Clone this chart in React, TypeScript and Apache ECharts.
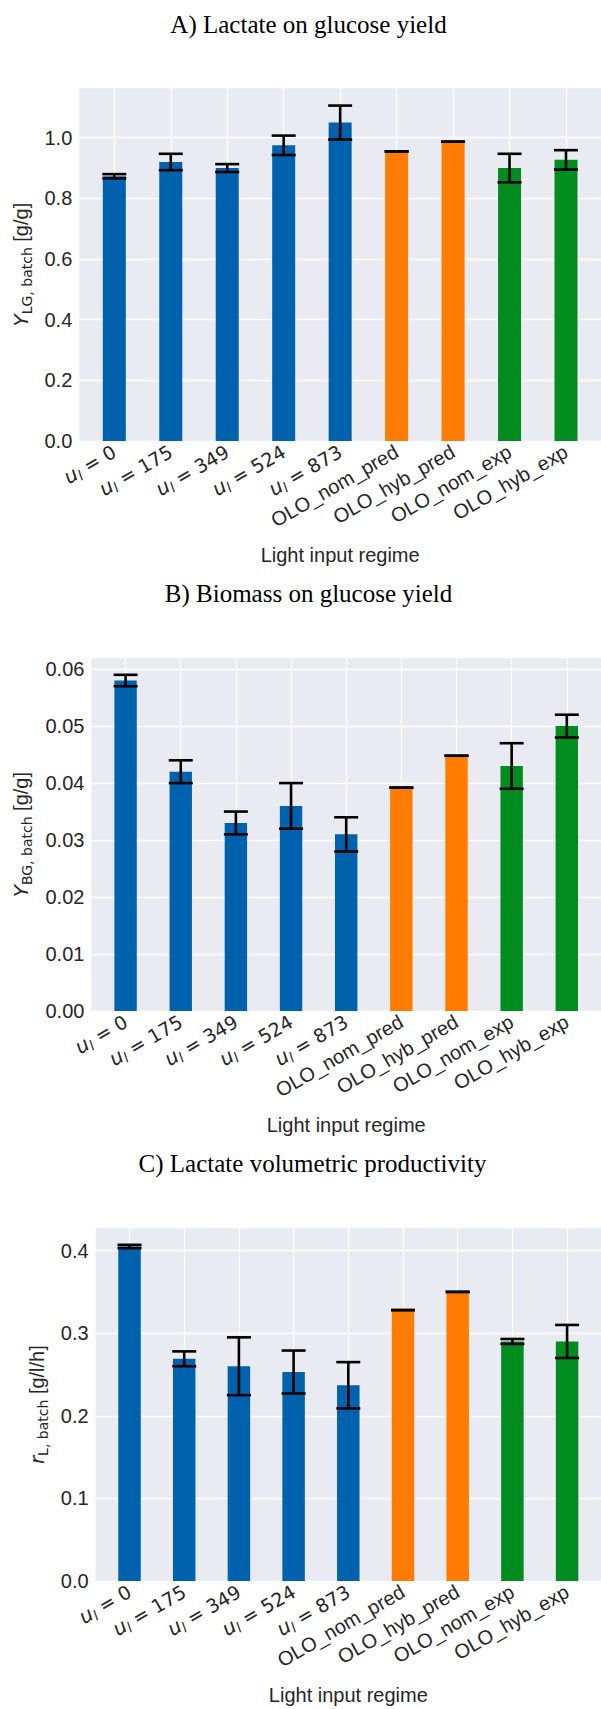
import React, { useEffect, useRef } from "react";
import * as echarts from "echarts";

// ---------- data ----------
const categories = [
  "u_l = 0",
  "u_l = 175",
  "u_l = 349",
  "u_l = 524",
  "u_l = 873",
  "OLO_nom_pred",
  "OLO_hyb_pred",
  "OLO_nom_exp",
  "OLO_hyb_exp",
];
const groupOf = ["exp", "exp", "exp", "exp", "exp", "pred", "pred", "olo", "olo"];

const titles = [
  "A) Lactate on glucose yield",
  "B) Biomass on glucose yield",
  "C) Lactate volumetric productivity",
];
const xAxisTitle = "Light input regime";

const yieldLG = [0.873, 0.92, 0.9, 0.975, 1.05, 0.955, 0.987, 0.9, 0.927];
const yieldLGErr = [0.007, 0.027, 0.013, 0.032, 0.056, 0, 0, 0.047, 0.032];
const yieldLGTicks = [0, 0.2, 0.4, 0.6, 0.8, 1.0];

const yieldBG = [0.058, 0.042, 0.033, 0.036, 0.031, 0.0392, 0.0448, 0.043, 0.05];
const yieldBGErr = [0.001, 0.002, 0.002, 0.004, 0.003, 0, 0, 0.004, 0.002];
const yieldBGTicks = [0, 0.01, 0.02, 0.03, 0.04, 0.05, 0.06];

const prodL = [0.405, 0.269, 0.26, 0.253, 0.237, 0.328, 0.35, 0.29, 0.29];
const prodLErr = [0.002, 0.009, 0.035, 0.026, 0.028, 0, 0, 0.003, 0.02];
const prodLTicks = [0, 0.1, 0.2, 0.3, 0.4];

// ---------- styles ----------
const groupColor: Record<string, string> = {
  exp: "#0062ad",
  pred: "#ff7c00",
  olo: "#008c1f",
};
const SANS = "Liberation Sans";
const MATH = "DejaVu Sans";
const TEXT = "#262626";

const panels = [
  {
    values: yieldLG,
    errors: yieldLGErr,
    ticks: yieldLGTicks,
    yMax: 1.163,
    decimals: 1,
    yName: "{i|Y}{s|LG, batch}{n| [g/g]}",
    grid: { left: 79.3, top: 88.3, width: 528.7, height: 352.7 },
    barWidth: 23,
    nameGap: 45,
    title: { x: 308.5, y: 24 },
  },
  {
    values: yieldBG,
    errors: yieldBGErr,
    ticks: yieldBGTicks,
    yMax: 0.0619,
    decimals: 2,
    yName: "{i|Y}{s|BG, batch}{n| [g/g]}",
    grid: { left: 91.4, top: 658.3, width: 515.6, height: 352.7 },
    barWidth: 22.4,
    nameGap: 57,
    title: { x: 308.5, y: 593.3 },
  },
  {
    values: prodL,
    errors: prodLErr,
    ticks: prodLTicks,
    yMax: 0.427,
    decimals: 1,
    yName: "{i|r}{s|L, batch}{n| [g/l/h]}",
    grid: { left: 95.6, top: 1228.3, width: 517.1, height: 352.7 },
    barWidth: 22.5,
    nameGap: 45,
    title: { x: 312.5, y: 1163 },
  },
];

const xLabelRich = {
  u: { fontFamily: MATH, fontStyle: "italic", fontSize: 20, color: TEXT, lineHeight: 24 },
  s: { fontFamily: MATH, fontStyle: "italic", fontSize: 14, color: TEXT, lineHeight: 14, verticalAlign: "bottom" },
  m: { fontFamily: MATH, fontSize: 19, color: TEXT, lineHeight: 24 },
  t: { fontFamily: SANS, fontSize: 20, color: TEXT, lineHeight: 24 },
};

const yNameRich = {
  i: { fontFamily: MATH, fontStyle: "italic", fontSize: 20, color: TEXT, lineHeight: 26 },
  s: { fontFamily: MATH, fontSize: 14, color: TEXT, lineHeight: 15, verticalAlign: "bottom" },
  n: { fontFamily: SANS, fontSize: 20, color: TEXT, lineHeight: 26 },
};

function formatCategory(v: number) {
  const idx = Math.round(v);
  const c = categories[idx];
  if (c === undefined) return "";
  if (c.startsWith("u_l = ")) {
    return `{u|u}{s|l}{m| = ${c.slice(6)}}`;
  }
  return `{t|${c}}`;
}

function buildOption() {
  const catIdx = categories.map((_, i) => i);
  const grid: any[] = [];
  const xAxis: any[] = [];
  const yAxis: any[] = [];
  const series: any[] = [];
  const graphic: any[] = [];

  panels.forEach((p, k) => {
    grid.push({
      ...p.grid,
      show: true,
      backgroundColor: "#eaeaf2",
      borderWidth: 0,
      containLabel: false,
    });
    xAxis.push({
      type: "value",
      gridIndex: k,
      min: -0.62,
      max: 8.62,
      axisLine: { show: false },
      axisTick: { show: false, customValues: catIdx },
      axisLabel: {
        customValues: catIdx,
        rotate: 30,
        margin: 9,
        formatter: formatCategory,
        rich: xLabelRich,
      },
      splitLine: { show: true, lineStyle: { color: "#ffffff", width: 1.3 } },
      name: xAxisTitle,
      nameLocation: "middle",
      nameGap: 104,
      nameTextStyle: { fontFamily: SANS, fontSize: 20, color: TEXT },
    });
    yAxis.push({
      type: "value",
      gridIndex: k,
      min: 0,
      max: p.yMax,
      axisLine: { show: false },
      axisTick: { show: false, customValues: p.ticks },
      axisLabel: {
        customValues: p.ticks,
        margin: 7,
        fontFamily: SANS,
        fontSize: 20,
        color: TEXT,
        formatter: (v: number) => v.toFixed(p.decimals),
      },
      splitLine: { show: true, lineStyle: { color: "#ffffff", width: 1.3 } },
      name: p.yName,
      nameLocation: "middle",
      nameGap: p.nameGap,
      nameRotate: 90,
      nameTextStyle: { rich: yNameRich },
    });
    series.push({
      type: "bar",
      xAxisIndex: k,
      yAxisIndex: k,
      barWidth: p.barWidth,
      z: 2,
      data: p.values.map((v, i) => ({
        value: [i, v],
        itemStyle: { color: groupColor[groupOf[i]] },
      })),
    });
    series.push({
      type: "custom",
      xAxisIndex: k,
      yAxisIndex: k,
      z: 5,
      encode: { x: 0, y: 1 },
      data: p.values.map((v, i) => [i, v, p.errors[i]]),
      renderItem: (params: any, api: any) => {
        const x = api.value(0);
        const m = api.value(1);
        const e = api.value(2);
        const top = api.coord([x, m + e]);
        const bot = api.coord([x, m - e]);
        const half = 12;
        const style = { stroke: "#000000", lineWidth: 2.6 };
        return {
          type: "group",
          children: [
            { type: "line", shape: { x1: top[0], y1: top[1], x2: bot[0], y2: bot[1] }, style },
            { type: "line", shape: { x1: top[0] - half, y1: top[1], x2: top[0] + half, y2: top[1] }, style },
            { type: "line", shape: { x1: bot[0] - half, y1: bot[1], x2: bot[0] + half, y2: bot[1] }, style },
          ],
        };
      },
    });
    graphic.push({
      type: "text",
      x: p.title.x,
      y: p.title.y,
      style: {
        text: titles[k],
        font: '25px "Liberation Serif"',
        fill: "#000000",
        textAlign: "center",
        textVerticalAlign: "middle",
        align: "center",
        verticalAlign: "middle",
      },
    });
  });

  return {
    animation: false,
    backgroundColor: "#ffffff",
    grid,
    xAxis,
    yAxis,
    series,
    graphic,
  };
}

export default function App() {
  const ref = useRef<HTMLDivElement>(null);
  useEffect(() => {
    if (!ref.current) return;
    const chart = echarts.init(ref.current, null, { renderer: "svg" });
    chart.setOption(buildOption() as any);
    return () => chart.dispose();
  }, []);
  return (
    <div
      ref={ref}
      style={{ position: "absolute", left: 0, top: 0, width: 601, height: 1709 }}
    />
  );
}
